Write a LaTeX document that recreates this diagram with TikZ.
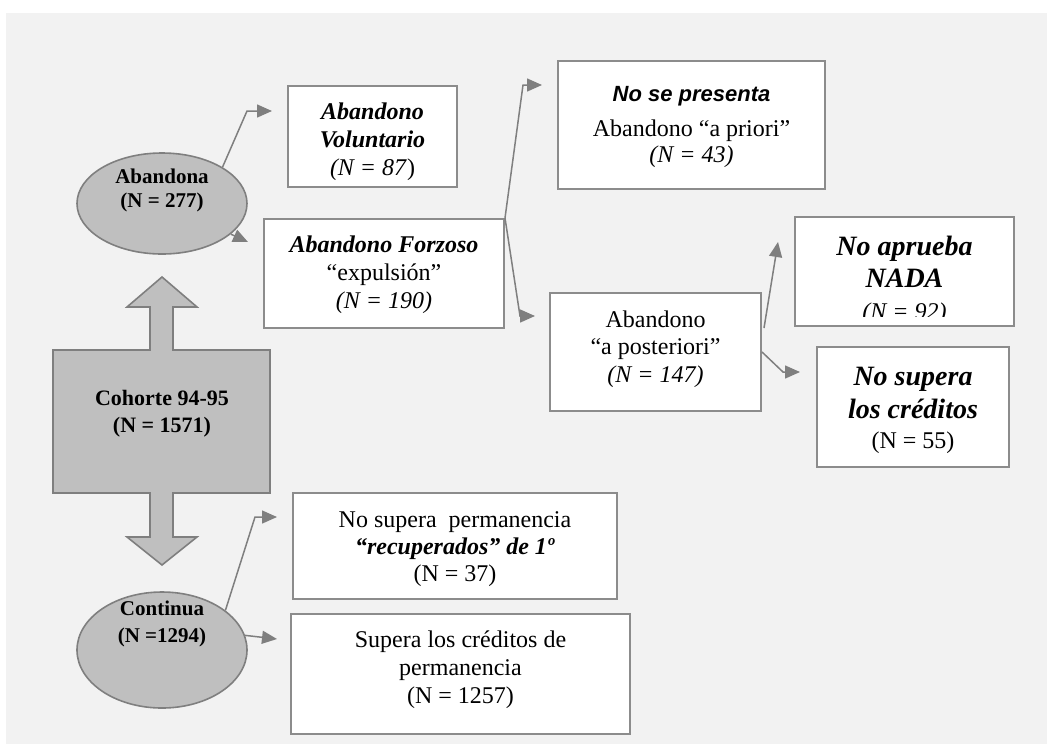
\documentclass[tikz,border=0pt]{standalone}
\usepackage{fontspec}
\setmainfont{Liberation Serif}
\newfontfamily\arialfont{Liberation Sans}
\usetikzlibrary{arrows.meta,shapes.geometric,calc}

\definecolor{fondo}{HTML}{F2F2F2}
\definecolor{gris}{HTML}{BFBFBF}
\definecolor{borde}{HTML}{8C8C8C}
\definecolor{flechagris}{HTML}{7F7F7F}

\tikzset{
    caja/.style={draw=borde, line width=1pt, fill=white, inner sep=0pt},
    elipse/.style={ellipse, draw=flechagris, line width=0.8pt, fill=gris, inner sep=0pt, minimum width=85pt},
    texto/.style={align=center, inner sep=0pt, font=\fontsize{12}{14}\selectfont},
    flecha/.style={draw=flechagris, line width=0.75pt, -{Triangle[length=7.5pt,width=6.5pt]}}
}

\begin{document}
\begin{tikzpicture}[x=0.5pt,y=-0.5pt]
    \useasboundingbox (0,0) rectangle (1048,745);
    \fill[fondo] (6,13) rectangle (1047,744);

    \filldraw[fill=gris, draw=flechagris, line width=0.8pt] (162,277) -- (197,307) -- (173,307) -- (173,350)
        -- (270,350) -- (270,493) -- (173,493) -- (173,537) -- (197,537) -- (162,565) -- (127,537)
        -- (150,537) -- (150,493) -- (53,493) -- (53,350) -- (150,350) -- (150,307) -- (127,307) -- cycle;
    \node[texto, font=\fontsize{11}{13.5}\selectfont\bfseries] (coh) at (162,413.6) {Cohorte 94-95\\(N = 1571)};

    \node[elipse, minimum height=50.5pt] (ab) at (162,203.5) {};
    \node[texto, font=\fontsize{10.5}{12}\selectfont\bfseries] (abt) at (162,190) {Abandona\\(N = 277)};
    \node[elipse, minimum height=58pt] (cont) at (162,650) {};
    \node[texto, font=\fontsize{10.5}{13.5}\selectfont\bfseries] (contt) at (162,623.6) {Continua\\(N =1294)};

    \node[caja, minimum width=84.5pt, minimum height=50.5pt] (vol) at (372.5,136.5) {};
    \node[texto] (volt) at (372.5,141.5) {\textbf{\textit{Abandono}}\\\textbf{\textit{Voluntario}}\\\textit{(N = 87})};
    \node[caja, minimum width=120pt, minimum height=54.5pt] (forz) at (384,273.5) {};
    \node[texto] (forzt) at (384,274.5) {\textbf{\textit{Abandono Forzoso}}\\“expulsión”\\\textit{(N = 190)}};

    \node[caja, minimum width=133.5pt, minimum height=64pt] (pres) at (691.5,125) {};
    \node[texto, font=\fontsize{12}{13}\selectfont] (prest) at (691.5,127)
        {{\arialfont\bfseries\itshape\fontsize{11}{13}\selectfont No se presenta}\\[4.5pt]Abandono “a priori”\\\textit{(N = 43)}};
    \node[caja, minimum width=105.5pt, minimum height=59pt] (post) at (655.5,352) {};
    \node[texto, font=\fontsize{12}{13.75}\selectfont] (postt) at (655.5,349) {Abandono\\“a posteriori”\\\textit{(N = 147)}};

    \node[caja, minimum width=109.5pt, minimum height=54.5pt] (nada) at (904.5,271.5) {};
    \begin{scope}
        \clip (nada.north west) rectangle ($(nada.south east)+(0,-11)$);
        \node[texto, anchor=north, font=\fontsize{14}{16}\selectfont\bfseries\itshape] (nadat) at (904.5,235.5)
            {No aprueba\\NADA\\{\fontsize{12}{16}\selectfont\mdseries(N = 92)}};
    \end{scope}
    \node[caja, minimum width=96pt, minimum height=60pt] (cred) at (913,407) {};
    \node[texto, font=\fontsize{14}{16.5}\selectfont] (credt) at (913,410)
        {\textbf{\textit{No supera}}\\\textbf{\textit{los créditos}}\\[-1.5pt]{\fontsize{12}{14}\selectfont(N = 55)}};

    \node[caja, minimum width=162pt, minimum height=53pt] (recup) at (455,546) {};
    \node[texto, font=\fontsize{12}{13.5}\selectfont] (recupt) at (455,548.7)
        {No supera~ permanencia\\\textbf{\textit{“recuperados” de 1º}}\\(N = 37)};
    \node[caja, minimum width=169.5pt, minimum height=60pt] (sup) at (460.5,674) {};
    \node[texto] (supt) at (460.5,669.5) {Supera los créditos de\\permanencia\\(N = 1257)};

    \coordinate (vcodo) at (247,111);
    \coordinate (vpunta) at (272,111);
    \coordinate (fpunta) at (248,242);
    \coordinate (pcodo) at (523,85);
    \coordinate (ppunta) at (542,85);
    \coordinate (qcodo) at (520,316);
    \coordinate (qpunta) at (535,316);
    \coordinate (npunta) at (778,242);
    \coordinate (ccodo) at (783,372);
    \coordinate (cpunta) at (800,372);
    \coordinate (rcodo) at (255,517);
    \coordinate (rpunta) at (277,517);
    \coordinate (spunta) at (277,639);

    \draw[flecha] (ab.31) -- (vcodo) -- (vpunta);
    \draw[flecha] (ab.-24) -- (fpunta);
    \draw[flecha] (forz.north east) -- (pcodo) -- (ppunta);
    \draw[flecha] (forz.north east) -- (qcodo) -- (qpunta);
    \draw[flecha] ($(post.north east)+(2,36)$) -- (npunta);
    \draw[flecha] (post.east) -- (ccodo) -- (cpunta);
    \draw[flecha] (cont.32) -- (rcodo) -- (rpunta);
    \draw[flecha] (cont.10) -- (spunta);
\end{tikzpicture}
\end{document}
